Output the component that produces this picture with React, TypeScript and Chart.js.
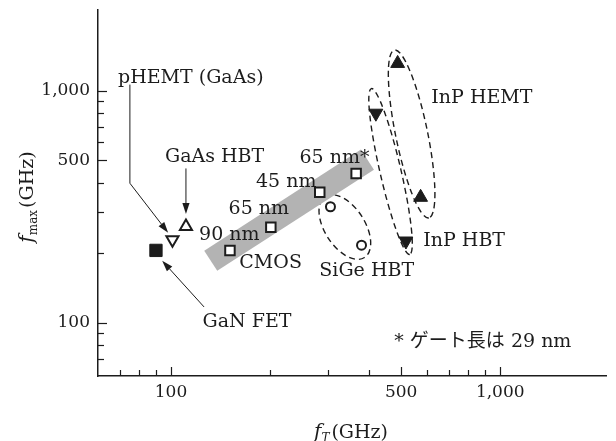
import React, { useEffect, useRef } from 'react';
import { Chart, registerables } from 'chart.js';

Chart.register(...registerables);

const FONT = '"DejaVu Serif", "Noto Sans CJK JP", serif';
const INK = '#1c1c1c';

// ---------------- data (f_T GHz, f_max GHz) ----------------
const ganFET = [{ x: 90, y: 205 }];
const pHEMTGaAs = [{ x: 101, y: 228 }];
const gaasHBT = [{ x: 111, y: 260 }];
const cmos = [
  { x: 151, y: 205 },
  { x: 201, y: 258 },
  { x: 283, y: 365 },
  { x: 365, y: 439 },
];
const sigeHBT = [
  { x: 305, y: 316 },
  { x: 379, y: 216 },
];
const inpHBT = [
  { x: 419, y: 799 },
  { x: 517, y: 225 },
];
const inpHEMT = [
  { x: 488, y: 1309 },
  { x: 573, y: 347 },
];
const cmosTrend = [
  { x: 132, y: 185 },
  { x: 395, y: 504 },
];

const xMajorTicks = [100, 500, 1000];
const xMinorTicks = [70, 80, 90, 200, 300, 400, 600, 700, 800, 900];
const yMajorTicks = [100, 500, 1000];
const yMinorTicks = [70, 80, 90, 200, 300, 400, 600, 700, 800, 900];

// group outlines: ends of the major axis (data units)
const sigeGroupEnds = [{ x: 294, y: 350 }, { x: 387, y: 191 }];
const inpHBTGroupEnds = [{ x: 406, y: 1020 }, { x: 531, y: 197 }];
const inpHEMTGroupEnds = [{ x: 477, y: 1495 }, { x: 607, y: 283 }];

// leader arrows (data units, last point is the tip)
const pHEMTArrow = [{ x: 75, y: 1061 }, { x: 75, y: 399 }, { x: 98, y: 244 }];
const gaasHBTArrow = [{ x: 111, y: 462 }, { x: 111, y: 294 }];
const ganArrow = [{ x: 126, y: 117 }, { x: 94, y: 185 }];

// text labels and their anchors (data units)
const labelTexts = [
  'pHEMT (GaAs)', 'GaAs HBT', '65 nm*', '45 nm', '65 nm', '90 nm', 'CMOS',
  'SiGe HBT', 'InP HBT', 'InP HEMT', 'GaN FET', '* ゲート長は 29 nm',
];
const labelAnchors = [
  { x: 69, y: 1137 }, { x: 135.6, y: 516 }, { x: 313.6, y: 511 }, { x: 223.9, y: 403.5 },
  { x: 184.8, y: 309 }, { x: 150.3, y: 239 }, { x: 200.7, y: 181 }, { x: 393, y: 167.6 },
  { x: 777, y: 225.4 }, { x: 879.6, y: 924 }, { x: 170.1, y: 100.3 }, { x: 885.6, y: 82.3 },
];
const labelAligns = ['left', 'center', 'center', 'center', 'center', 'center', 'center',
  'center', 'center', 'center', 'center', 'center'];

const fmt = (v: number) => String(v).replace(/\B(?=(\d{3})+(?!\d))/g, ',');

const overlay = {
  id: 'overlay',
  beforeDatasetsDraw(chart: any) {
    const { ctx, scales } = chart;
    const sx = scales.x, sy = scales.y;
    const groups = [
      { ends: sigeGroupEnds, half: 20 },
      { ends: inpHBTGroupEnds, half: 10.5 },
      { ends: inpHEMTGroupEnds, half: 16 },
    ];
    ctx.save();
    ctx.strokeStyle = INK;
    ctx.lineWidth = 1.4;
    ctx.setLineDash([6, 4]);
    groups.forEach((g) => {
      const x1 = sx.getPixelForValue(g.ends[0].x), y1 = sy.getPixelForValue(g.ends[0].y);
      const x2 = sx.getPixelForValue(g.ends[1].x), y2 = sy.getPixelForValue(g.ends[1].y);
      const a = Math.hypot(x2 - x1, y2 - y1) / 2;
      const ang = Math.atan2(y2 - y1, x2 - x1);
      ctx.beginPath();
      ctx.ellipse((x1 + x2) / 2, (y1 + y2) / 2, a, g.half, ang, 0, Math.PI * 2);
      ctx.stroke();
    });
    ctx.restore();
  },
  afterDatasetsDraw(chart: any) {
    const { ctx, scales } = chart;
    const sx = scales.x, sy = scales.y;
    ctx.save();
    ctx.strokeStyle = INK;
    ctx.fillStyle = INK;
    ctx.lineWidth = 1;
    [pHEMTArrow, gaasHBTArrow, ganArrow].forEach((pts) => {
      const p = pts.map((q) => [sx.getPixelForValue(q.x), sy.getPixelForValue(q.y)]);
      const n = p.length;
      const [tx, ty] = p[n - 1];
      const [px, py] = p[n - 2];
      const ang = Math.atan2(ty - py, tx - px);
      const L = 11, W = 3.6;
      const bx = tx - Math.cos(ang) * L, by = ty - Math.sin(ang) * L;
      ctx.beginPath();
      ctx.moveTo(p[0][0], p[0][1]);
      for (let i = 1; i < n - 1; i++) ctx.lineTo(p[i][0], p[i][1]);
      ctx.lineTo(bx, by);
      ctx.stroke();
      ctx.beginPath();
      ctx.moveTo(tx, ty);
      ctx.lineTo(bx - Math.sin(ang) * W, by + Math.cos(ang) * W);
      ctx.lineTo(bx + Math.sin(ang) * W, by - Math.cos(ang) * W);
      ctx.closePath();
      ctx.fill();
    });
    ctx.font = `19px ${FONT}`;
    ctx.textBaseline = 'middle';
    labelTexts.forEach((t, i) => {
      ctx.textAlign = labelAligns[i] as CanvasTextAlign;
      ctx.fillText(t, sx.getPixelForValue(labelAnchors[i].x), sy.getPixelForValue(labelAnchors[i].y));
    });
    ctx.restore();
  },
  afterDraw(chart: any) {
    const { ctx, scales, chartArea } = chart;
    const sx = scales.x, sy = scales.y;
    ctx.save();
    ctx.strokeStyle = INK;
    ctx.lineWidth = 1.2;
    const tick = (vals: number[], len: number) => {
      vals.forEach((v) => {
        const px = Math.round(sx.getPixelForValue(v)) + 0.5;
        ctx.beginPath();
        ctx.moveTo(px, chartArea.bottom);
        ctx.lineTo(px, chartArea.bottom - len);
        ctx.stroke();
      });
    };
    const ytick = (vals: number[], len: number) => {
      vals.forEach((v) => {
        const py = Math.round(sy.getPixelForValue(v)) + 0.5;
        ctx.beginPath();
        ctx.moveTo(chartArea.left, py);
        ctx.lineTo(chartArea.left + len, py);
        ctx.stroke();
      });
    };
    tick(xMajorTicks, 9);
    tick(xMinorTicks, 6);
    ytick(yMajorTicks, 9);
    ytick(yMinorTicks, 6);

    const drawTitle = (main: string, sub: string, subItalic: boolean, rest: string) => {
      const subFont = `${subItalic ? 'italic ' : ''}12px ${FONT}`;
      ctx.font = `italic 20px ${FONT}`;
      const w1 = ctx.measureText(main).width;
      ctx.font = subFont;
      const w2 = ctx.measureText(sub).width;
      ctx.font = `19px ${FONT}`;
      const w3 = ctx.measureText(rest).width;
      let x0 = -(w1 + w2 + w3 + 2) / 2;
      ctx.textAlign = 'left';
      ctx.textBaseline = 'alphabetic';
      ctx.fillStyle = INK;
      ctx.font = `italic 20px ${FONT}`;
      ctx.fillText(main, x0, 7);
      x0 += w1;
      ctx.font = subFont;
      ctx.fillText(sub, x0, 11);
      x0 += w2 + 2;
      ctx.font = `19px ${FONT}`;
      ctx.fillText(rest, x0, 7);
    };
    ctx.save();
    ctx.translate(351, 431);
    drawTitle('f', 'T', true, '(GHz)');
    ctx.restore();
    ctx.save();
    ctx.translate(26, 197);
    ctx.rotate(-Math.PI / 2);
    drawTitle('f', 'max', false, '(GHz)');
    ctx.restore();
    ctx.restore();
  },
};

export default function App() {
  const ref = useRef<HTMLCanvasElement | null>(null);
  useEffect(() => {
    if (!ref.current) return;
    const openBase = { backgroundColor: '#ffffff', borderColor: INK, borderWidth: 2 };
    const chart = new Chart(ref.current, {
      type: 'scatter',
      data: {
        datasets: [
          { label: 'CMOS trend', data: cmosTrend, showLine: true, borderColor: '#b3b3b3', borderWidth: 24,
            borderCapStyle: 'butt', pointRadius: 0, order: 10 } as any,
          { label: 'GaN FET', data: ganFET, pointStyle: 'rect', pointRadius: 8.7, backgroundColor: INK,
            borderColor: INK, borderWidth: 1 } as any,
          { label: 'pHEMT (GaAs)', data: pHEMTGaAs, pointStyle: 'triangle', pointRotation: 180, pointRadius: 7, ...openBase } as any,
          { label: 'GaAs HBT', data: gaasHBT, pointStyle: 'triangle', pointRadius: 7, ...openBase } as any,
          { label: 'CMOS', data: cmos, pointStyle: 'rect', pointRadius: 6.7, ...openBase } as any,
          { label: 'SiGe HBT', data: sigeHBT, pointStyle: 'circle', pointRadius: 4.5, ...openBase } as any,
          { label: 'InP HBT', data: inpHBT, pointStyle: 'triangle', pointRotation: 180, pointRadius: 8,
            backgroundColor: INK, borderColor: INK, borderWidth: 1 } as any,
          { label: 'InP HEMT', data: inpHEMT, pointStyle: 'triangle', pointRadius: 8,
            backgroundColor: INK, borderColor: INK, borderWidth: 1 } as any,
        ],
      },
      options: {
        animation: false,
        responsive: false,
        devicePixelRatio: 1,
        layout: { padding: { top: 8, right: 1, left: 0, bottom: 0 } },
        plugins: { legend: { display: false }, tooltip: { enabled: false } },
        scales: {
          x: {
            type: 'logarithmic', min: 60, max: 2100,
            afterFit: (s: any) => { s.height = 65; s.paddingLeft = 0; s.paddingRight = 0; },
            afterBuildTicks: (s: any) => { s.ticks = [...xMinorTicks, ...xMajorTicks].sort((a, b) => a - b).map((v) => ({ value: v })); },
            grid: { display: false, drawTicks: false },
            border: { display: true, color: INK, width: 1.5 },
            ticks: {
              autoSkip: false, maxRotation: 0, padding: 6, color: INK,
              font: { family: FONT, size: 17 },
              callback: (v: any) => (xMajorTicks.includes(Number(v)) ? fmt(Number(v)) : ''),
            },
          },
          y: {
            type: 'logarithmic', min: 59, max: 2230,
            afterFit: (s: any) => { s.width = 98; s.paddingTop = 0; s.paddingBottom = 0; },
            afterBuildTicks: (s: any) => { s.ticks = [...yMinorTicks, ...yMajorTicks].sort((a, b) => a - b).map((v) => ({ value: v })); },
            grid: { display: false, drawTicks: false },
            border: { display: true, color: INK, width: 1.5 },
            ticks: {
              autoSkip: false, padding: 8, color: INK,
              font: { family: FONT, size: 17 },
              callback: (v: any) => (yMajorTicks.includes(Number(v)) ? fmt(Number(v)) : ''),
            },
          },
        },
      } as any,
      plugins: [overlay],
    });
    return () => chart.destroy();
  }, []);
  return (
    <div style={{ position: 'absolute', left: 0, top: 0, width: 616, height: 441, background: '#fff' }}>
      <canvas ref={ref} width={616} height={441} />
    </div>
  );
}
